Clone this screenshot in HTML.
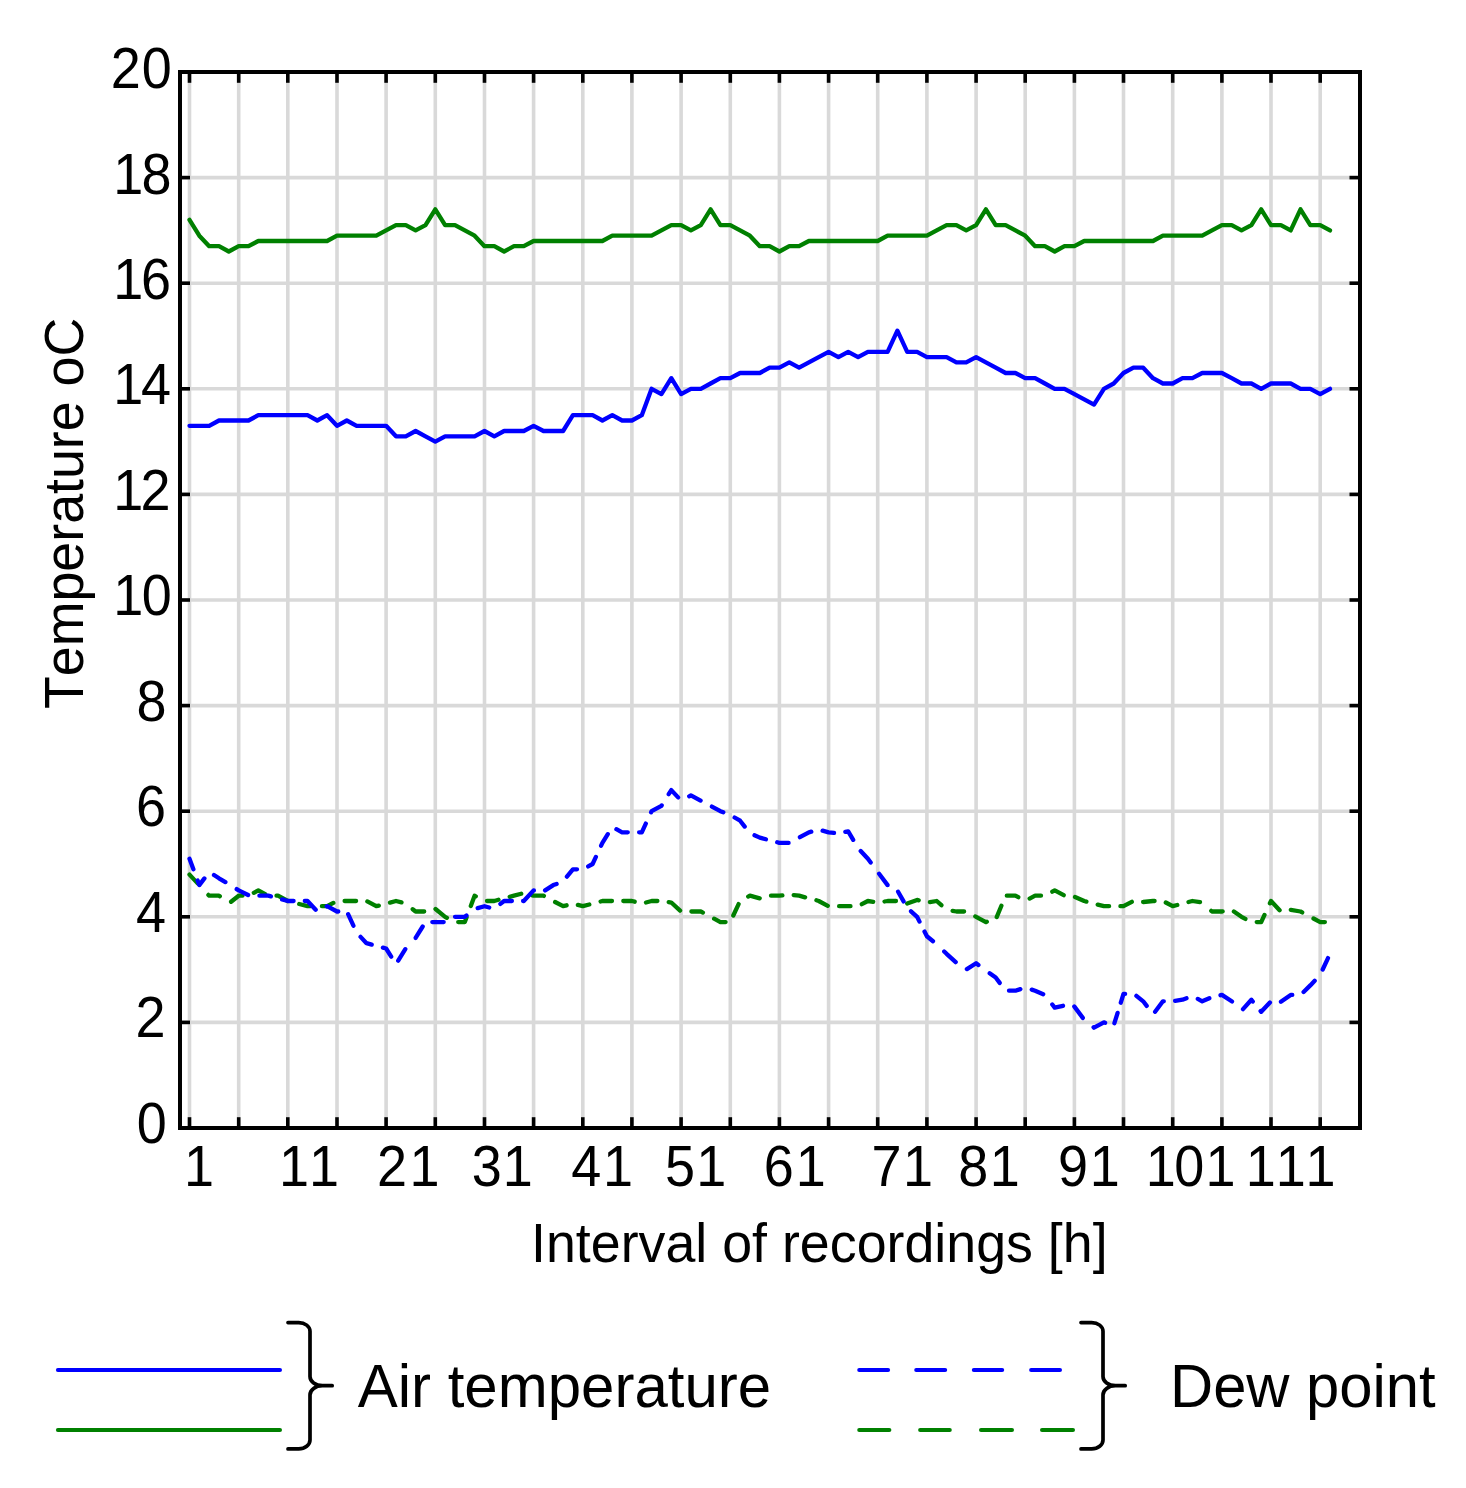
<!DOCTYPE html>
<html lang="en"><head><meta charset="utf-8"><title>Temperature chart</title>
<style>html,body{margin:0;padding:0;background:#fff}svg{display:block}</style></head>
<body>
<svg width="1466" height="1488" viewBox="0 0 1466 1488">
<rect width="1466" height="1488" fill="#fff"/>
<g stroke="#d9d9d9" stroke-width="3.6" fill="none">
<line x1="189.5" y1="72.0" x2="189.5" y2="1128.0"/>
<line x1="238.7" y1="72.0" x2="238.7" y2="1128.0"/>
<line x1="287.8" y1="72.0" x2="287.8" y2="1128.0"/>
<line x1="337.0" y1="72.0" x2="337.0" y2="1128.0"/>
<line x1="386.1" y1="72.0" x2="386.1" y2="1128.0"/>
<line x1="435.3" y1="72.0" x2="435.3" y2="1128.0"/>
<line x1="484.5" y1="72.0" x2="484.5" y2="1128.0"/>
<line x1="533.6" y1="72.0" x2="533.6" y2="1128.0"/>
<line x1="582.8" y1="72.0" x2="582.8" y2="1128.0"/>
<line x1="631.9" y1="72.0" x2="631.9" y2="1128.0"/>
<line x1="681.1" y1="72.0" x2="681.1" y2="1128.0"/>
<line x1="730.3" y1="72.0" x2="730.3" y2="1128.0"/>
<line x1="779.4" y1="72.0" x2="779.4" y2="1128.0"/>
<line x1="828.6" y1="72.0" x2="828.6" y2="1128.0"/>
<line x1="877.7" y1="72.0" x2="877.7" y2="1128.0"/>
<line x1="926.9" y1="72.0" x2="926.9" y2="1128.0"/>
<line x1="976.1" y1="72.0" x2="976.1" y2="1128.0"/>
<line x1="1025.2" y1="72.0" x2="1025.2" y2="1128.0"/>
<line x1="1074.4" y1="72.0" x2="1074.4" y2="1128.0"/>
<line x1="1123.5" y1="72.0" x2="1123.5" y2="1128.0"/>
<line x1="1172.7" y1="72.0" x2="1172.7" y2="1128.0"/>
<line x1="1221.9" y1="72.0" x2="1221.9" y2="1128.0"/>
<line x1="1271.0" y1="72.0" x2="1271.0" y2="1128.0"/>
<line x1="1320.2" y1="72.0" x2="1320.2" y2="1128.0"/>
<line x1="180.0" y1="1022.4" x2="1360.0" y2="1022.4"/>
<line x1="180.0" y1="916.8" x2="1360.0" y2="916.8"/>
<line x1="180.0" y1="811.2" x2="1360.0" y2="811.2"/>
<line x1="180.0" y1="705.6" x2="1360.0" y2="705.6"/>
<line x1="180.0" y1="600.0" x2="1360.0" y2="600.0"/>
<line x1="180.0" y1="494.4" x2="1360.0" y2="494.4"/>
<line x1="180.0" y1="388.8" x2="1360.0" y2="388.8"/>
<line x1="180.0" y1="283.2" x2="1360.0" y2="283.2"/>
<line x1="180.0" y1="177.6" x2="1360.0" y2="177.6"/>
</g>
<g fill="none" stroke-width="4.3" stroke-linejoin="round" stroke-linecap="round">
<path stroke="#008000" d="M189.5,874.6L197.9,883.6M208.4,894.9L209.2,895.7L219.0,895.7L219.8,896.3M231.1,901.8L238.7,895.7L242.5,895.7M253.8,892.8L258.3,890.4L265.2,894.1M276.5,895.7L278.0,895.7L287.8,901.0L287.9,901.0M299.2,904.0L307.5,906.2L310.6,906.2M321.9,906.2L327.1,906.2L333.4,902.9M344.6,901.0L346.8,901.0L356.1,901.0M367.3,901.4L376.3,906.2L378.8,905.6M390.0,902.6L396.0,901.0L401.5,902.4M412.7,909.2L415.6,911.5L424.2,911.5M435.5,909.0L445.1,916.8L446.9,917.8M458.2,922.1L464.8,922.1L466.6,917.3M470.8,906.0L474.6,895.7L475.8,896.3M487.0,901.0L494.3,901.0L498.5,899.8M509.7,896.8L514.0,895.7L521.2,893.7M532.4,895.4L533.6,895.7L543.5,895.7L543.9,895.9M555.1,902.0L563.1,906.2L566.6,905.3M577.9,904.9L582.8,906.2L589.3,904.5M600.6,901.5L602.4,901.0L612.0,901.0M623.3,901.0L631.9,901.0L634.7,901.7M646.0,902.5L651.6,901.0L657.4,901.0M668.7,902.1L671.3,902.5L680.1,910.6M691.4,911.5L700.8,911.5L702.9,912.6M714.1,918.7L720.4,922.1L725.6,922.1M733.3,915.5L738.6,904.1M748.2,896.6L749.9,895.7L759.7,898.3M771.0,895.7L779.4,895.7L782.4,895.4M793.7,895.1L799.1,895.7L805.1,897.3M816.4,900.3L818.7,901.0L827.8,905.8M839.1,906.2L848.2,906.2L850.5,906.2M861.8,904.2L867.9,901.0L873.2,901.8M884.5,901.5L887.6,901.0L896.0,901.0M907.2,903.6L907.2,903.6L917.1,899.9L918.7,900.3M929.9,902.1L936.7,901.0L941.4,905.2M952.6,910.9L956.4,911.5L964.1,911.5M975.3,916.4L976.1,916.8L985.9,922.1L986.8,921.8M996.7,917.1L1001.4,905.7M1006.8,895.7L1015.4,895.7L1018.3,897.2M1029.6,898.6L1035.1,895.7L1041.0,895.7M1052.3,891.7L1054.7,890.4L1063.7,895.2M1075.0,897.0L1084.2,901.0L1086.4,901.6M1097.7,904.6L1103.9,906.2L1109.1,906.2M1120.4,906.2L1123.5,906.2L1131.8,901.8M1143.1,902.0L1143.2,902.0L1153.0,901.0L1154.6,901.0M1165.8,902.5L1172.7,906.2L1177.3,905.0M1188.5,902.0L1192.4,901.0L1200.0,902.2M1211.2,910.8L1212.0,911.5L1221.9,911.5L1222.7,911.4M1233.9,911.5L1241.5,916.8L1245.4,918.9M1256.7,922.1L1261.2,922.1L1264.5,914.9M1269.9,903.3L1271.0,901.0L1279.6,910.2M1290.8,909.9L1300.5,911.5L1302.2,912.4M1313.5,918.5L1320.2,922.1L1324.9,922.1"/>
<path stroke="#0000ff" d="M189.5,858.7L193.4,869.2M197.6,880.4L199.3,885.1L204.4,878.4M214.0,875.0L219.0,878.3L225.4,882.1M236.7,889.1L238.7,890.4L248.1,895.0M259.4,895.7L268.2,895.7L270.9,896.4M282.1,899.4L287.8,901.0L293.6,901.0M304.8,901.0L307.5,901.0L315.7,909.8M326.8,906.4L327.1,906.2L337.0,911.5L338.3,911.5M348.1,914.2L353.4,925.7M360.6,936.9L366.5,943.2L371.7,944.6M382.9,947.6L386.1,948.5L391.2,956.7M398.2,960.7L405.3,949.2M415.6,938.0L415.6,937.9L422.7,926.5M432.3,922.1L435.3,922.1L443.7,922.1M455.0,916.8L464.8,916.8L466.5,915.5M477.7,908.1L484.5,906.2L489.2,907.5M500.4,903.9L504.1,901.0L511.9,901.0M523.1,901.0L523.8,901.0L533.6,890.4L533.9,890.4M545.1,890.4L553.3,885.1L556.6,883.9M566.9,876.7L572.9,869.3L577.0,869.3M588.2,866.4L592.6,864.0L595.9,856.9M601.1,845.7L602.4,842.9L607.8,834.2M616.4,829.2L622.1,832.3L627.8,832.3M639.1,832.3L641.8,832.3L645.8,823.6M651.1,812.3L651.6,811.2L661.4,805.9L661.7,805.4M668.7,794.2L671.3,790.1L678.1,797.4M689.2,796.3L690.9,795.4L700.6,800.6M711.9,806.6L720.4,811.2L723.3,812.3M734.6,817.5L740.1,820.7L744.7,826.6M754.5,835.3L759.8,837.6L765.9,839.3M777.2,842.3L779.4,842.9L788.6,842.9M799.9,837.2L808.9,832.3L811.3,831.7M822.6,830.7L828.6,832.3L834.0,832.9M845.3,831.9L848.2,831.3L853.2,839.8M860.7,851.0L867.9,858.7L870.7,862.5M879.1,873.7L887.6,885.1L887.6,885.2M898.1,891.7L903.6,901.4M911.0,911.3L917.1,916.8L919.5,921.6M924.5,931.6L926.9,936.3L933.0,941.2M944.2,951.5L946.6,953.8L955.7,962.1M966.9,969.1L976.1,963.3L978.4,965.0M989.7,973.3L995.7,977.5L999.7,982.9M1009.0,990.7L1015.4,990.7L1020.4,989.1M1031.7,989.6L1035.1,990.7L1043.2,994.2M1052.3,1004.5L1054.7,1007.6L1063.0,1005.8M1074.3,1006.5L1074.4,1006.6L1082.8,1017.9M1093.6,1027.3L1094.0,1027.7L1103.9,1022.4L1105.1,1022.8M1114.4,1023.2L1117.6,1012.9M1120.8,1002.7L1123.5,993.9L1125.1,993.8M1136.4,995.8L1143.2,1001.3L1146.7,1005.9M1155.1,1011.8L1162.9,1001.3L1163.8,1001.3M1175.1,1000.9L1182.5,999.7L1186.5,998.2M1197.8,998.9L1202.2,1001.3L1209.3,998.2M1220.5,995.2L1221.9,994.9L1231.7,1001.3L1232.0,1001.5M1243.0,1009.1L1251.4,999.7L1252.8,1001.5M1260.6,1011.1L1261.2,1011.8L1269.9,1002.5M1280.8,1001.8L1280.9,1001.8L1290.7,994.9L1292.3,994.9M1303.6,992.0L1310.3,985.4L1314.7,980.8M1322.7,969.5L1328.0,958.1"/>
<polyline stroke="#008000" points="189.5,219.8 199.3,235.7 209.2,246.2 219.0,246.2 228.8,251.5 238.7,246.2 248.5,246.2 258.3,241.0 268.2,241.0 278.0,241.0 287.8,241.0 297.7,241.0 307.5,241.0 317.3,241.0 327.1,241.0 337.0,235.7 346.8,235.7 356.6,235.7 366.5,235.7 376.3,235.7 386.1,230.4 396.0,225.1 405.8,225.1 415.6,230.4 425.5,225.1 435.3,209.3 445.1,225.1 455.0,225.1 464.8,230.4 474.6,235.7 484.5,246.2 494.3,246.2 504.1,251.5 514.0,246.2 523.8,246.2 533.6,241.0 543.5,241.0 553.3,241.0 563.1,241.0 572.9,241.0 582.8,241.0 592.6,241.0 602.4,241.0 612.3,235.7 622.1,235.7 631.9,235.7 641.8,235.7 651.6,235.7 661.4,230.4 671.3,225.1 681.1,225.1 690.9,230.4 700.8,225.1 710.6,209.3 720.4,225.1 730.3,225.1 740.1,230.4 749.9,235.7 759.8,246.2 769.6,246.2 779.4,251.5 789.3,246.2 799.1,246.2 808.9,241.0 818.7,241.0 828.6,241.0 838.4,241.0 848.2,241.0 858.1,241.0 867.9,241.0 877.7,241.0 887.6,235.7 897.4,235.7 907.2,235.7 917.1,235.7 926.9,235.7 936.7,230.4 946.6,225.1 956.4,225.1 966.2,230.4 976.1,225.1 985.9,209.3 995.7,225.1 1005.6,225.1 1015.4,230.4 1025.2,235.7 1035.1,246.2 1044.9,246.2 1054.7,251.5 1064.5,246.2 1074.4,246.2 1084.2,241.0 1094.0,241.0 1103.9,241.0 1113.7,241.0 1123.5,241.0 1133.4,241.0 1143.2,241.0 1153.0,241.0 1162.9,235.7 1172.7,235.7 1182.5,235.7 1192.4,235.7 1202.2,235.7 1212.0,230.4 1221.9,225.1 1231.7,225.1 1241.5,230.4 1251.4,225.1 1261.2,209.3 1271.0,225.1 1280.9,225.1 1290.7,230.4 1300.5,209.3 1310.3,225.1 1320.2,225.1 1330.0,230.4"/>
<polyline stroke="#0000ff" points="189.5,425.8 199.3,425.8 209.2,425.8 219.0,420.5 228.8,420.5 238.7,420.5 248.5,420.5 258.3,415.2 268.2,415.2 278.0,415.2 287.8,415.2 297.7,415.2 307.5,415.2 317.3,420.5 327.1,415.2 337.0,425.8 346.8,420.5 356.6,425.8 366.5,425.8 376.3,425.8 386.1,425.8 396.0,436.3 405.8,436.3 415.6,431.0 425.5,436.3 435.3,441.6 445.1,436.3 455.0,436.3 464.8,436.3 474.6,436.3 484.5,431.0 494.3,436.3 504.1,431.0 514.0,431.0 523.8,431.0 533.6,425.8 543.5,431.0 553.3,431.0 563.1,431.0 572.9,415.2 582.8,415.2 592.6,415.2 602.4,420.5 612.3,415.2 622.1,420.5 631.9,420.5 641.8,415.2 651.6,388.8 661.4,394.1 671.3,378.2 681.1,394.1 690.9,388.8 700.8,388.8 710.6,383.5 720.4,378.2 730.3,378.2 740.1,373.0 749.9,373.0 759.8,373.0 769.6,367.7 779.4,367.7 789.3,362.4 799.1,367.7 808.9,362.4 818.7,357.1 828.6,351.8 838.4,357.1 848.2,351.8 858.1,357.1 867.9,351.8 877.7,351.8 887.6,351.8 897.4,330.7 907.2,351.8 917.1,351.8 926.9,357.1 936.7,357.1 946.6,357.1 956.4,362.4 966.2,362.4 976.1,357.1 985.9,362.4 995.7,367.7 1005.6,373.0 1015.4,373.0 1025.2,378.2 1035.1,378.2 1044.9,383.5 1054.7,388.8 1064.5,388.8 1074.4,394.1 1084.2,399.4 1094.0,404.6 1103.9,388.8 1113.7,383.5 1123.5,373.0 1133.4,367.7 1143.2,367.7 1153.0,378.2 1162.9,383.5 1172.7,383.5 1182.5,378.2 1192.4,378.2 1202.2,373.0 1212.0,373.0 1221.9,373.0 1231.7,378.2 1241.5,383.5 1251.4,383.5 1261.2,388.8 1271.0,383.5 1280.9,383.5 1290.7,383.5 1300.5,388.8 1310.3,388.8 1320.2,394.1 1330.0,388.8"/>
</g>
<g stroke="#000" stroke-width="3.6" fill="none">
<line x1="189.5" y1="72.0" x2="189.5" y2="82.8"/>
<line x1="189.5" y1="1128.0" x2="189.5" y2="1117.2"/>
<line x1="238.7" y1="72.0" x2="238.7" y2="82.8"/>
<line x1="238.7" y1="1128.0" x2="238.7" y2="1117.2"/>
<line x1="287.8" y1="72.0" x2="287.8" y2="82.8"/>
<line x1="287.8" y1="1128.0" x2="287.8" y2="1117.2"/>
<line x1="337.0" y1="72.0" x2="337.0" y2="82.8"/>
<line x1="337.0" y1="1128.0" x2="337.0" y2="1117.2"/>
<line x1="386.1" y1="72.0" x2="386.1" y2="82.8"/>
<line x1="386.1" y1="1128.0" x2="386.1" y2="1117.2"/>
<line x1="435.3" y1="72.0" x2="435.3" y2="82.8"/>
<line x1="435.3" y1="1128.0" x2="435.3" y2="1117.2"/>
<line x1="484.5" y1="72.0" x2="484.5" y2="82.8"/>
<line x1="484.5" y1="1128.0" x2="484.5" y2="1117.2"/>
<line x1="533.6" y1="72.0" x2="533.6" y2="82.8"/>
<line x1="533.6" y1="1128.0" x2="533.6" y2="1117.2"/>
<line x1="582.8" y1="72.0" x2="582.8" y2="82.8"/>
<line x1="582.8" y1="1128.0" x2="582.8" y2="1117.2"/>
<line x1="631.9" y1="72.0" x2="631.9" y2="82.8"/>
<line x1="631.9" y1="1128.0" x2="631.9" y2="1117.2"/>
<line x1="681.1" y1="72.0" x2="681.1" y2="82.8"/>
<line x1="681.1" y1="1128.0" x2="681.1" y2="1117.2"/>
<line x1="730.3" y1="72.0" x2="730.3" y2="82.8"/>
<line x1="730.3" y1="1128.0" x2="730.3" y2="1117.2"/>
<line x1="779.4" y1="72.0" x2="779.4" y2="82.8"/>
<line x1="779.4" y1="1128.0" x2="779.4" y2="1117.2"/>
<line x1="828.6" y1="72.0" x2="828.6" y2="82.8"/>
<line x1="828.6" y1="1128.0" x2="828.6" y2="1117.2"/>
<line x1="877.7" y1="72.0" x2="877.7" y2="82.8"/>
<line x1="877.7" y1="1128.0" x2="877.7" y2="1117.2"/>
<line x1="926.9" y1="72.0" x2="926.9" y2="82.8"/>
<line x1="926.9" y1="1128.0" x2="926.9" y2="1117.2"/>
<line x1="976.1" y1="72.0" x2="976.1" y2="82.8"/>
<line x1="976.1" y1="1128.0" x2="976.1" y2="1117.2"/>
<line x1="1025.2" y1="72.0" x2="1025.2" y2="82.8"/>
<line x1="1025.2" y1="1128.0" x2="1025.2" y2="1117.2"/>
<line x1="1074.4" y1="72.0" x2="1074.4" y2="82.8"/>
<line x1="1074.4" y1="1128.0" x2="1074.4" y2="1117.2"/>
<line x1="1123.5" y1="72.0" x2="1123.5" y2="82.8"/>
<line x1="1123.5" y1="1128.0" x2="1123.5" y2="1117.2"/>
<line x1="1172.7" y1="72.0" x2="1172.7" y2="82.8"/>
<line x1="1172.7" y1="1128.0" x2="1172.7" y2="1117.2"/>
<line x1="1221.9" y1="72.0" x2="1221.9" y2="82.8"/>
<line x1="1221.9" y1="1128.0" x2="1221.9" y2="1117.2"/>
<line x1="1271.0" y1="72.0" x2="1271.0" y2="82.8"/>
<line x1="1271.0" y1="1128.0" x2="1271.0" y2="1117.2"/>
<line x1="1320.2" y1="72.0" x2="1320.2" y2="82.8"/>
<line x1="1320.2" y1="1128.0" x2="1320.2" y2="1117.2"/>
<line x1="180.0" y1="1022.4" x2="190.0" y2="1022.4"/>
<line x1="1360.0" y1="1022.4" x2="1349.5" y2="1022.4"/>
<line x1="180.0" y1="916.8" x2="190.0" y2="916.8"/>
<line x1="1360.0" y1="916.8" x2="1349.5" y2="916.8"/>
<line x1="180.0" y1="811.2" x2="190.0" y2="811.2"/>
<line x1="1360.0" y1="811.2" x2="1349.5" y2="811.2"/>
<line x1="180.0" y1="705.6" x2="190.0" y2="705.6"/>
<line x1="1360.0" y1="705.6" x2="1349.5" y2="705.6"/>
<line x1="180.0" y1="600.0" x2="190.0" y2="600.0"/>
<line x1="1360.0" y1="600.0" x2="1349.5" y2="600.0"/>
<line x1="180.0" y1="494.4" x2="190.0" y2="494.4"/>
<line x1="1360.0" y1="494.4" x2="1349.5" y2="494.4"/>
<line x1="180.0" y1="388.8" x2="190.0" y2="388.8"/>
<line x1="1360.0" y1="388.8" x2="1349.5" y2="388.8"/>
<line x1="180.0" y1="283.2" x2="190.0" y2="283.2"/>
<line x1="1360.0" y1="283.2" x2="1349.5" y2="283.2"/>
<line x1="180.0" y1="177.6" x2="190.0" y2="177.6"/>
<line x1="1360.0" y1="177.6" x2="1349.5" y2="177.6"/>
</g>
<rect x="180.0" y="72.0" width="1180.0" height="1056.0" fill="none" stroke="#000" stroke-width="4.0"/>
<g font-family="'Liberation Sans', Arial, sans-serif" fill="#000" style="font-kerning:none" font-size="54.0">
<text transform="translate(0 1142.6) scale(1 1.047)" x="136.73" y="0">0</text>
<text transform="translate(0 1037.1) scale(1 1.047)" x="135.49" y="0">2</text>
<text transform="translate(0 931.7) scale(1 1.047)" x="136.05" y="0">4</text>
<text transform="translate(0 826.2) scale(1 1.047)" x="135.89" y="0">6</text>
<text transform="translate(0 720.8) scale(1 1.047)" x="136.44" y="0">8</text>
<text transform="translate(0 615.3) scale(1 1.047)" x="113.25 141.79" y="0">10</text>
<text transform="translate(0 509.8) scale(1 1.047)" x="113.25 140.55" y="0">12</text>
<text transform="translate(0 404.4) scale(1 1.047)" x="113.25 141.11" y="0">14</text>
<text transform="translate(0 298.9) scale(1 1.047)" x="113.25 140.95" y="0">16</text>
<text transform="translate(0 193.5) scale(1 1.047)" x="113.25 141.50" y="0">18</text>
<text transform="translate(0 88.0) scale(1 1.047)" x="110.69 141.79" y="0">20</text>
<text transform="translate(0 1186.0) scale(1 1.047)" x="183.89" y="0">1</text>
<text transform="translate(0 1186.0) scale(1 1.047)" x="279.11 308.97" y="0">11</text>
<text transform="translate(0 1186.0) scale(1 1.047)" x="376.99 409.41" y="0">21</text>
<text transform="translate(0 1186.0) scale(1 1.047)" x="471.78 502.88" y="0">31</text>
<text transform="translate(0 1186.0) scale(1 1.047)" x="571.20 603.07" y="0">41</text>
<text transform="translate(0 1186.0) scale(1 1.047)" x="664.91 696.14" y="0">51</text>
<text transform="translate(0 1186.0) scale(1 1.047)" x="763.82 795.84" y="0">61</text>
<text transform="translate(0 1186.0) scale(1 1.047)" x="871.41 902.93" y="0">71</text>
<text transform="translate(0 1186.0) scale(1 1.047)" x="958.35 989.82" y="0">81</text>
<text transform="translate(0 1186.0) scale(1 1.047)" x="1058.09 1089.69" y="0">91</text>
<text transform="translate(0 1186.0) scale(1 1.047)" x="1145.78 1174.32 1205.50" y="0">101</text>
<text transform="translate(0 1186.0) scale(1 1.047)" x="1245.83 1275.69 1305.55" y="0">111</text>
</g>
<g font-family="'Liberation Sans', Arial, sans-serif" fill="#000" style="font-kerning:none" font-size="53.75">
<text transform="translate(531.04 1261.7) scale(1 1.049)">Interval of recordings [h]</text>
<text transform="translate(83 709.01) rotate(-90) scale(1 1.049)">Temperature oC</text>
</g>
<g font-family="'Liberation Sans', Arial, sans-serif" fill="#000" style="font-kerning:none">
<text font-size="60" transform="translate(357.73 1406.7) scale(1 1.032)">Air temperature</text>
<text font-size="59.75" transform="translate(1170.00 1406.7) scale(1 1.032)">Dew point</text>
</g>
<g fill="none" stroke-width="4" stroke-linecap="round">
<line stroke="#0000ff" x1="57.9" y1="1370" x2="280" y2="1370"/>
<line stroke="#008000" x1="57.9" y1="1430" x2="280" y2="1430"/>
<line stroke="#0000ff" x1="859.2" y1="1370" x2="888.1" y2="1370"/>
<line stroke="#0000ff" x1="916.2" y1="1370" x2="945.2" y2="1370"/>
<line stroke="#0000ff" x1="973.8" y1="1370" x2="1002.2" y2="1370"/>
<line stroke="#0000ff" x1="1031.1" y1="1370" x2="1060.0" y2="1370"/>
<line stroke="#008000" x1="859.2" y1="1430" x2="889.4" y2="1430"/>
<line stroke="#008000" x1="920.1" y1="1430" x2="949.8" y2="1430"/>
<line stroke="#008000" x1="981.0" y1="1430" x2="1012.0" y2="1430"/>
<line stroke="#008000" x1="1042.0" y1="1430" x2="1073.0" y2="1430"/>
</g>
<g fill="none" stroke="#000" stroke-width="3.7" stroke-linecap="round" stroke-linejoin="round">
<path d="M288.0,1322.6 H298.7 A11.3,8.6 0 0 1 310.0,1331.2 V1376.5 A12.4,9.2 0 0 0 322.4,1385.7 H332.2 H322.4 A12.4,9.2 0 0 0 310.0,1394.9 V1440 A11.3,8.9 0 0 1 298.7,1448.9 H288.0"/>
<path d="M1081.0,1322.6 H1091.7 A11.3,8.6 0 0 1 1103.0,1331.2 V1376.5 A12.4,9.2 0 0 0 1115.4,1385.7 H1125.2 H1115.4 A12.4,9.2 0 0 0 1103.0,1394.9 V1440 A11.3,8.9 0 0 1 1091.7,1448.9 H1081.0"/>
</g>
</svg>
</body></html>
